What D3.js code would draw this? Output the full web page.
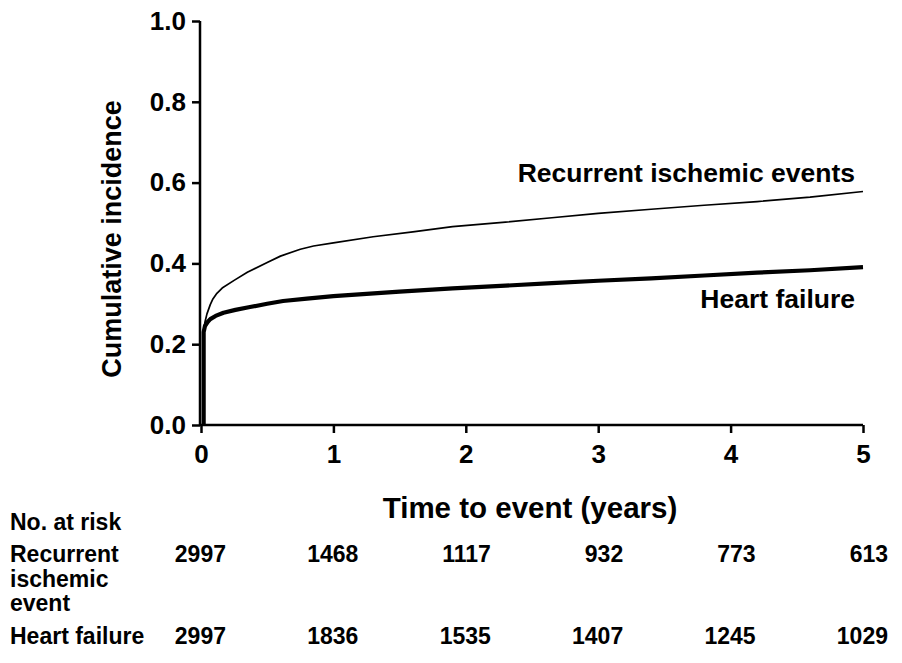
<!DOCTYPE html>
<html lang="en">
<head>
	<title>Cumulative incidence</title>
	<script src="https://d3js.org/d3.v7.min.js" charset="utf-8"></script>
	<style>
	body { margin: 0; background: #fff; }
	text {
		font-family: "Liberation Sans", Arial, sans-serif;
		font-weight: bold;
		fill: #000;
	}
	</style>
</head>
<body>
	<script>
	// Data
	var ischemicTime = [0.02, 0.02, 0.03, 0.045, 0.07, 0.09, 0.12, 0.16, 0.25, 0.35, 0.5, 0.6, 0.75, 0.85, 1.0, 1.3, 1.6, 1.9, 2.3, 2.65, 3.0, 3.4, 3.8, 4.2, 4.6, 5.0];
	var ischemicInc  = [0, 0.23, 0.255, 0.275, 0.298, 0.312, 0.326, 0.339, 0.358, 0.378, 0.402, 0.418, 0.435, 0.443, 0.451, 0.466, 0.478, 0.491, 0.502, 0.513, 0.524, 0.534, 0.544, 0.553, 0.564, 0.578];

	var hfTime = [0.02, 0.02, 0.03, 0.05, 0.07, 0.11, 0.17, 0.26, 0.37, 0.5, 0.62, 0.8, 1.0, 1.5, 1.9, 2.3, 2.65, 3.0, 3.4, 3.8, 4.2, 4.6, 5.0];
	var hfInc  = [0, 0.23, 0.245, 0.255, 0.262, 0.270, 0.278, 0.285, 0.292, 0.300, 0.307, 0.313, 0.319, 0.330, 0.338, 0.345, 0.351, 0.357, 0.363, 0.370, 0.377, 0.383, 0.391];

	var xTicks = [0, 1, 2, 3, 4, 5];
	var yTicks = [0, 0.2, 0.4, 0.6, 0.8, 1.0];

	var riskTimes = [0, 1, 2, 3, 4, 5];
	var riskIschemic = [2997, 1468, 1117, 932, 773, 613];
	var riskHF = [2997, 1836, 1535, 1407, 1245, 1029];

	var w = 902;
	var h = 663;

	var x = d3.scaleLinear().domain([0, 5]).range([201, 863]);
	var y = d3.scaleLinear().domain([0, 1]).range([425, 21]);

	var svg = d3.select("body")
		.append("svg")
		.attr("width", w)
		.attr("height", h);

	// axes
	var yAxis = d3.axisLeft(y)
		.tickValues(yTicks)
		.tickFormat(d3.format(".1f"))
		.tickSize(8)
		.tickPadding(6);

	var xAxis = d3.axisBottom(x)
		.tickValues(xTicks)
		.tickFormat(d3.format("d"))
		.tickSize(8)
		.tickPadding(12);

	var gy = svg.append("g")
		.attr("transform", "translate(200,0)")
		.call(yAxis);

	var gx = svg.append("g")
		.attr("transform", "translate(0,425)")
		.call(xAxis);

	[gx, gy].forEach(function(g) {
		g.select(".domain").attr("stroke", "#000").attr("stroke-width", 2.5);
		g.selectAll(".tick line").attr("stroke", "#000").attr("stroke-width", 2.5);
		g.selectAll(".tick text")
			.attr("font-size", 26)
			.attr("font-family", "'Liberation Sans', Arial, sans-serif")
			.attr("font-weight", "bold")
			.attr("fill", "#000");
	});
	// domain paths without outer ticks
	gy.select(".domain").attr("d", "M0," + y(1) + "V" + y(0));
	gx.select(".domain").attr("d", "M200,0H" + x(5));

	// curves
	var line = d3.line()
		.x(function(d) { return x(d[0]); })
		.y(function(d) { return y(d[1]); });

	svg.append("path")
		.datum(d3.zip(hfTime, hfInc))
		.attr("d", line)
		.attr("fill", "none")
		.attr("stroke", "#000")
		.attr("stroke-width", 4.2)
		.attr("stroke-linejoin", "round");

	svg.append("path")
		.datum(d3.zip(ischemicTime, ischemicInc))
		.attr("d", line)
		.attr("fill", "none")
		.attr("stroke", "#000")
		.attr("stroke-width", 1.7)
		.attr("stroke-linejoin", "round");

	// curve labels
	svg.append("text")
		.attr("x", 855)
		.attr("y", 182)
		.attr("text-anchor", "end")
		.attr("font-size", 26.5)
		.text("Recurrent ischemic events");

	svg.append("text")
		.attr("x", 855)
		.attr("y", 308)
		.attr("text-anchor", "end")
		.attr("font-size", 26.5)
		.text("Heart failure");

	// axis titles
	svg.append("text")
		.attr("x", 530)
		.attr("y", 518)
		.attr("text-anchor", "middle")
		.attr("font-size", 29.5)
		.text("Time to event (years)");

	svg.append("text")
		.attr("text-anchor", "middle")
		.attr("font-size", 27)
		.attr("transform", "translate(121,239) rotate(-90)")
		.text("Cumulative incidence");

	// number at risk table
	svg.append("text")
		.attr("x", 10).attr("y", 530)
		.attr("font-size", 23)
		.text("No. at risk");

	["Recurrent", "ischemic", "event"].forEach(function(s, i) {
		svg.append("text")
			.attr("x", 10).attr("y", 562 + i * 24.5)
			.attr("font-size", 23)
			.text(s);
	});

	svg.append("text")
		.attr("x", 10).attr("y", 644)
		.attr("font-size", 23)
		.text("Heart failure");

	svg.selectAll(".riskI")
		.data(riskIschemic)
		.enter()
		.append("text")
		.attr("x", function(d, i) { return x(riskTimes[i]) + 25; })
		.attr("y", 562)
		.attr("text-anchor", "end")
		.attr("font-size", 23)
		.text(function(d) { return d; });

	svg.selectAll(".riskH")
		.data(riskHF)
		.enter()
		.append("text")
		.attr("x", function(d, i) { return x(riskTimes[i]) + 25; })
		.attr("y", 644)
		.attr("text-anchor", "end")
		.attr("font-size", 23)
		.text(function(d) { return d; });
	</script>
</body>
</html>
